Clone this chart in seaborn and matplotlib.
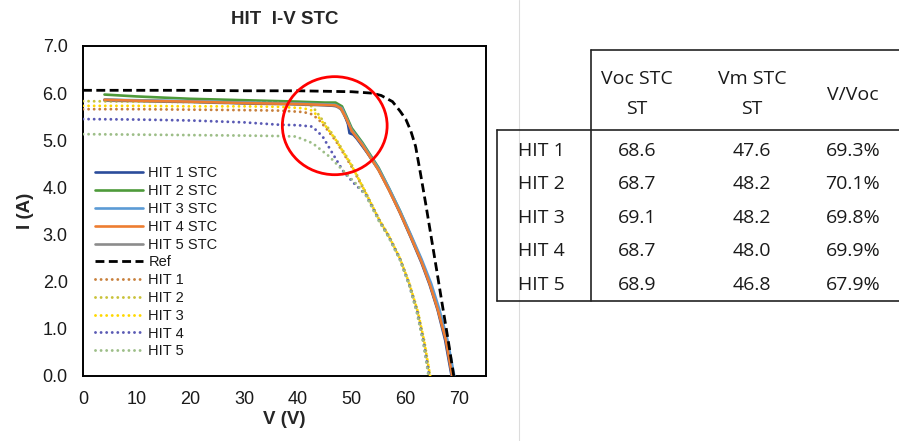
import numpy as np
import pandas as pd
import matplotlib
matplotlib.use("Agg")
import matplotlib.pyplot as plt
from matplotlib.patches import Ellipse
from matplotlib.lines import Line2D
import seaborn as sns

# ---- I-V curves (V in volts, I in amps) ----
v_ref = [0, 10, 20, 30, 40, 50, 53.8, 55.5, 57.6, 59.0, 60.1, 61.0, 61.9, 62.8, 63.8, 64.8, 65.8, 66.8, 67.9, 69.0]
i_ref = [6.06, 6.06, 6.06, 6.05, 6.05, 6.03, 6.00, 5.95, 5.82, 5.62, 5.44, 5.20, 4.87, 4.30, 3.64, 2.95, 2.26, 1.56, 0.80, 0.0]

v_stc1 = [4, 10, 20, 30, 40, 45, 47.6, 48.4, 49.3, 49.6, 50.3, 51.0, 53.0, 55.0, 57.0, 59.0, 61.0, 63.0, 64.5, 66.0, 67.4, 68.6]
i_stc1 = [5.86, 5.84, 5.82, 5.79, 5.77, 5.75, 5.72, 5.62, 5.35, 5.15, 5.12, 5.03, 4.72, 4.38, 3.94, 3.46, 2.94, 2.40, 1.94, 1.40, 0.76, 0.0]

v_stc2 = [4, 10, 20, 30, 40, 45, 47.0, 48.2, 49.0, 50.0, 52.0, 55.0, 57.0, 59.0, 61.0, 63.0, 64.5, 66.0, 67.5, 68.7]
i_stc2 = [5.97, 5.93, 5.88, 5.85, 5.82, 5.80, 5.80, 5.72, 5.52, 5.26, 4.95, 4.42, 3.97, 3.50, 2.98, 2.44, 1.98, 1.44, 0.78, 0.0]

v_stc3 = [4, 10, 20, 30, 40, 45, 47.0, 48.2, 49.0, 50.0, 52.0, 55.0, 57.0, 59.0, 61.0, 63.0, 64.8, 66.3, 67.8, 69.1]
i_stc3 = [5.86, 5.85, 5.83, 5.80, 5.78, 5.76, 5.75, 5.68, 5.48, 5.22, 4.92, 4.40, 3.97, 3.50, 3.00, 2.48, 1.96, 1.42, 0.78, 0.0]

v_stc4 = [4, 10, 20, 30, 40, 45, 47.0, 48.0, 49.0, 50.0, 52.0, 55.0, 57.0, 59.0, 61.0, 63.0, 64.5, 66.0, 67.5, 68.7]
i_stc4 = [5.86, 5.84, 5.82, 5.79, 5.77, 5.75, 5.74, 5.68, 5.46, 5.20, 4.90, 4.37, 3.93, 3.46, 2.95, 2.42, 1.96, 1.42, 0.78, 0.0]

v_stc5 = [4, 10, 20, 30, 40, 45, 47.0, 48.0, 49.0, 50.0, 52.0, 55.0, 57.0, 59.0, 61.0, 63.0, 64.5, 66.0, 67.6, 68.9]
i_stc5 = [5.84, 5.83, 5.81, 5.78, 5.76, 5.74, 5.73, 5.66, 5.45, 5.19, 4.89, 4.37, 3.94, 3.47, 2.96, 2.44, 1.98, 1.44, 0.78, 0.0]

v_hit1 = [0, 10, 20, 30, 36.5, 41.0, 42.7, 44.0, 45.5, 47.1, 50.1, 52.6, 55.1, 57.0, 59.0, 60.7, 62.2, 63.4, 64.4]
i_hit1 = [5.66, 5.66, 5.65, 5.64, 5.63, 5.60, 5.55, 5.42, 5.22, 4.98, 4.42, 3.88, 3.31, 2.94, 2.48, 1.95, 1.36, 0.72, 0.0]

v_hit2 = [0, 10, 20, 30, 36.5, 41.0, 42.7, 44.0, 45.5, 47.1, 50.1, 52.6, 55.1, 57.0, 59.0, 60.7, 62.3, 63.5, 64.6]
i_hit2 = [5.83, 5.82, 5.81, 5.80, 5.79, 5.76, 5.72, 5.52, 5.28, 5.02, 4.46, 3.90, 3.33, 2.96, 2.50, 1.98, 1.38, 0.75, 0.0]

v_hit3 = [0, 10, 20, 30, 36.5, 41.0, 42.7, 44.0, 45.5, 47.1, 50.1, 52.6, 55.1, 57.0, 59.0, 60.7, 62.3, 63.5, 64.6]
i_hit3 = [5.73, 5.73, 5.72, 5.72, 5.71, 5.68, 5.63, 5.47, 5.25, 5.00, 4.44, 3.89, 3.32, 2.95, 2.49, 1.97, 1.37, 0.74, 0.0]

v_hit4 = [0, 10, 20, 30, 36.5, 40.0, 42.7, 44.6, 46.4, 48.5, 50.5, 52.6, 55.1, 57.0, 59.0, 60.7, 62.2, 63.4, 64.4]
i_hit4 = [5.45, 5.44, 5.42, 5.38, 5.33, 5.32, 5.29, 5.08, 4.73, 4.33, 4.08, 3.85, 3.30, 2.93, 2.47, 1.94, 1.35, 0.71, 0.0]

v_hit5 = [0, 10, 20, 30, 36.5, 39.6, 42.7, 45.8, 48.9, 50.8, 52.6, 55.1, 57.0, 59.0, 60.7, 62.1, 63.3, 64.3]
i_hit5 = [5.13, 5.12, 5.11, 5.10, 5.09, 5.08, 4.94, 4.66, 4.30, 4.08, 3.84, 3.28, 2.92, 2.46, 1.93, 1.36, 0.72, 0.0]

# ---- summary table ----
table_rows = ["HIT 1", "HIT 2", "HIT 3", "HIT 4", "HIT 5"]
table_cols = ["Voc STC\nST", "Vm STC\nST", "V/Voc"]
voc_stc = ["68.6", "68.7", "69.1", "68.7", "68.9"]
vm_stc = ["47.6", "48.2", "48.2", "48.0", "46.8"]
v_ratio = ["69.3%", "70.1%", "69.8%", "69.9%", "67.9%"]

x_ticks = [0, 10, 20, 30, 40, 50, 60, 70]
y_ticks = [0.0, 1.0, 2.0, 3.0, 4.0, 5.0, 6.0, 7.0]

series = [
    ("HIT 1 STC", v_stc1, i_stc1),
    ("HIT 2 STC", v_stc2, i_stc2),
    ("HIT 3 STC", v_stc3, i_stc3),
    ("HIT 4 STC", v_stc4, i_stc4),
    ("HIT 5 STC", v_stc5, i_stc5),
    ("Ref", v_ref, i_ref),
    ("HIT 1", v_hit1, i_hit1),
    ("HIT 2", v_hit2, i_hit2),
    ("HIT 3", v_hit3, i_hit3),
    ("HIT 4", v_hit4, i_hit4),
    ("HIT 5", v_hit5, i_hit5),
]
df = pd.concat(
    [pd.DataFrame({"series": n, "V": v, "I": i}) for n, v, i in series],
    ignore_index=True,
)

dot = (0, (0.01, 1.9))
styles = {
    "HIT 1 STC": dict(color="#2B4C9B", ls="-", lw=1.9, z=4),
    "HIT 2 STC": dict(color="#4E9A3A", ls="-", lw=1.9, z=3),
    "HIT 3 STC": dict(color="#5B9BD5", ls="-", lw=1.9, z=5),
    "HIT 4 STC": dict(color="#ED7D31", ls="-", lw=1.9, z=6),
    "HIT 5 STC": dict(color="#8C8C8C", ls="-", lw=1.9, z=2),
    "Ref": dict(color="#000000", ls=(0, (3.2, 1.6)), lw=2.0, z=7),
    "HIT 1": dict(color="#C8803C", ls=dot, lw=2.1, z=3),
    "HIT 2": dict(color="#C9C23A", ls=dot, lw=2.1, z=3),
    "HIT 3": dict(color="#FFD800", ls=dot, lw=2.1, z=3),
    "HIT 4": dict(color="#5A5AB4", ls=dot, lw=2.1, z=3),
    "HIT 5": dict(color="#9DBE88", ls=dot, lw=2.1, z=3),
}

sns.set_theme(style="white")
plt.rcParams["font.family"] = ["Liberation Sans", "DejaVu Sans"]

fig = plt.figure(figsize=(8.99, 4.41), dpi=100)
fig.patch.set_facecolor("white")
ax = fig.add_axes([83 / 899, 1 - 376 / 441, 403 / 899, 330 / 441])

for name, _, _ in series:
    st = styles[name]
    sns.lineplot(
        data=df[df.series == name], x="V", y="I", sort=False, estimator=None,
        color=st["color"], lw=st["lw"], label=name, ax=ax, zorder=st["z"],
    )
    ln = ax.lines[-1]
    ln.set_linestyle(st["ls"])
    if st["ls"] == dot:
        ln.set_dash_capstyle("round")

ax.set_xlim(0, 75)
ax.set_ylim(0, 7)
ax.set_xticks(x_ticks)
ax.set_yticks(y_ticks)
ax.set_yticklabels([f"{t:.1f}" for t in y_ticks])
ax.tick_params(axis="both", length=0, pad=11, labelsize=13, colors="#1a1a1a")
for sp in ax.spines.values():
    sp.set_visible(True)
    sp.set_color("black")
    sp.set_linewidth(1.4)
ax.set_xlabel("V (V)", fontsize=13.5, fontweight="bold", labelpad=2)
ax.set_ylabel("I (A)", fontsize=13.5, fontweight="bold", labelpad=6)
ax.set_title("HIT  I-V STC", fontsize=13.5, fontweight="bold", pad=16, x=0.5)

# highlight the knee of the STC curves
ax.add_patch(Ellipse((46.85, 5.31), 19.5, 2.08, fill=False, edgecolor="#FF0000", lw=2.0, zorder=8))

leg = ax.legend(
    loc="upper left", bbox_to_anchor=(0.03, 0.635), frameon=False, fontsize=10.5,
    handlelength=3.3, handletextpad=0.35, labelspacing=0.26, borderaxespad=0, borderpad=0,
)
for t in leg.get_texts():
    t.set_color("#1a1a1a")
for h in leg.get_lines():
    if h.get_linestyle() not in ("-", "--"):
        h.set_dash_capstyle("round")

# ---- table on the right ----
tab = fig.add_axes([0, 0, 1, 1], zorder=-1)
tab.set_xlim(0, 899)
tab.set_ylim(441, 0)
tab.axis("off")
tab.patch.set_alpha(0)

tab.add_line(Line2D([519, 519], [0, 441], color="#dcdcdc", lw=0.8))
kw = dict(color="#222222", lw=1.2)
tab.add_line(Line2D([591, 899], [50, 50], **kw))
tab.add_line(Line2D([591, 591], [50, 301], **kw))
tab.add_line(Line2D([497, 899], [130, 130], **kw))
tab.add_line(Line2D([497, 497], [130, 301], **kw))
tab.add_line(Line2D([497, 899], [301, 301], **kw))

tfont = dict(family=["Open Sans", "DejaVu Sans"], fontsize=14, color="#1a1a1a")
col_x = [637, 752, 853]
tab.text(col_x[0], 94, table_cols[0], ha="center", va="center", linespacing=1.85, **tfont)
tab.text(col_x[1], 94, table_cols[1], ha="center", va="center", linespacing=1.85, **tfont)
tab.text(col_x[2], 95, table_cols[2], ha="center", va="center", **tfont)
row_y = [151, 184, 218, 251, 285]
for r, y in enumerate(row_y):
    tab.text(518, y, table_rows[r], ha="left", va="center", **tfont)
    tab.text(col_x[0], y, voc_stc[r], ha="center", va="center", **tfont)
    tab.text(col_x[1], y, vm_stc[r], ha="center", va="center", **tfont)
    tab.text(col_x[2], y, v_ratio[r], ha="center", va="center", **tfont)

fig.savefig("out.png", dpi=100)
